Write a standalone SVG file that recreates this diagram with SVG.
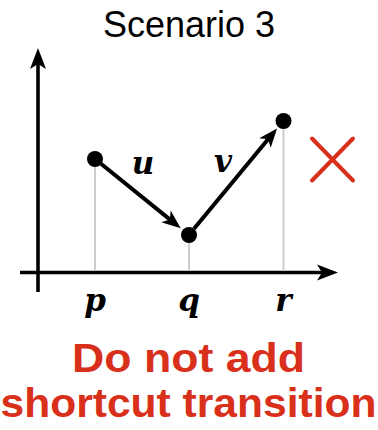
<svg xmlns="http://www.w3.org/2000/svg" width="378" height="430" viewBox="0 0 378 430">
  <style>
    .axis { stroke: #000; stroke-width: 3.6; fill: none; }
    .drop { stroke: #cccccc; stroke-width: 2; fill: none; }
    .edge { stroke: #000; stroke-width: 4; fill: none; }
    .dot { fill: #000; }
    .math { font-family: "DejaVu Serif", "Liberation Serif", serif; font-weight: bold; font-style: italic; font-size: 31px; fill: #000; text-anchor: middle; }
    .title { font-family: "Liberation Sans", "DejaVu Sans", sans-serif; font-size: 36px; fill: #000; text-anchor: middle; }
    .warn { font-family: "Liberation Sans", "DejaVu Sans", sans-serif; font-weight: bold; font-size: 41px; fill: #d9301c; text-anchor: middle; }
    .cross { stroke: #d9301c; stroke-width: 4; stroke-linecap: round; fill: none; }
  </style>
  <defs>
    <marker id="axhead" markerUnits="userSpaceOnUse" markerWidth="1" markerHeight="1" refX="-8" refY="0" orient="auto" overflow="visible">
      <path d="M0,0 L-21,-8 L-16,0 L-21,8 Z" fill="#000"/>
    </marker>
    <marker id="edhead" markerUnits="userSpaceOnUse" markerWidth="1" markerHeight="1" refX="-7" refY="0" orient="auto" overflow="visible">
      <path d="M0,0 L-19,-7.5 L-14,0 L-19,7.5 Z" fill="#000"/>
    </marker>
  </defs>

  <text id="title" class="title" x="189" y="37">Scenario 3</text>

  <g id="axes">
    <line class="axis" x1="38" y1="292" x2="38" y2="56" marker-end="url(#axhead)"/>
    <line class="axis" x1="20" y1="272.5" x2="330" y2="272.5" marker-end="url(#axhead)"/>
  </g>

  <g id="drops">
    <line class="drop" x1="95" y1="159" x2="95" y2="271"/>
    <line class="drop" x1="189" y1="235" x2="189" y2="271"/>
    <line class="drop" x1="283.5" y1="121" x2="283.5" y2="271"/>
  </g>

  <g id="connectors">
    <line id="edge-u" class="edge" x1="101" y1="163.8" x2="175.3" y2="223.9" marker-end="url(#edhead)"/>
    <line id="edge-v" class="edge" x1="194" y1="228.8" x2="272.6" y2="133.8" marker-end="url(#edhead)"/>
    <text class="math" x="143" y="174">u</text>
    <text class="math" x="223" y="172">v</text>
  </g>

  <g id="node-p">
    <circle class="dot" cx="95" cy="159" r="8"/>
    <text class="math" x="95" y="311">p</text>
  </g>
  <g id="node-q">
    <circle class="dot" cx="189" cy="235" r="8"/>
    <text class="math" x="189" y="311">q</text>
  </g>
  <g id="node-r">
    <circle class="dot" cx="283.5" cy="121" r="8"/>
    <text class="math" x="283.5" y="311">r</text>
  </g>

  <g id="cross">
    <line class="cross" x1="312" y1="138.5" x2="353" y2="180.5"/>
    <line class="cross" x1="353" y1="138.5" x2="312" y2="180.5"/>
  </g>

  <g id="caption">
    <text class="warn" x="188.5" y="372" textLength="233" lengthAdjust="spacingAndGlyphs">Do not add</text>
    <text class="warn" x="188.5" y="417" textLength="376" lengthAdjust="spacingAndGlyphs">shortcut transition</text>
  </g>
</svg>
